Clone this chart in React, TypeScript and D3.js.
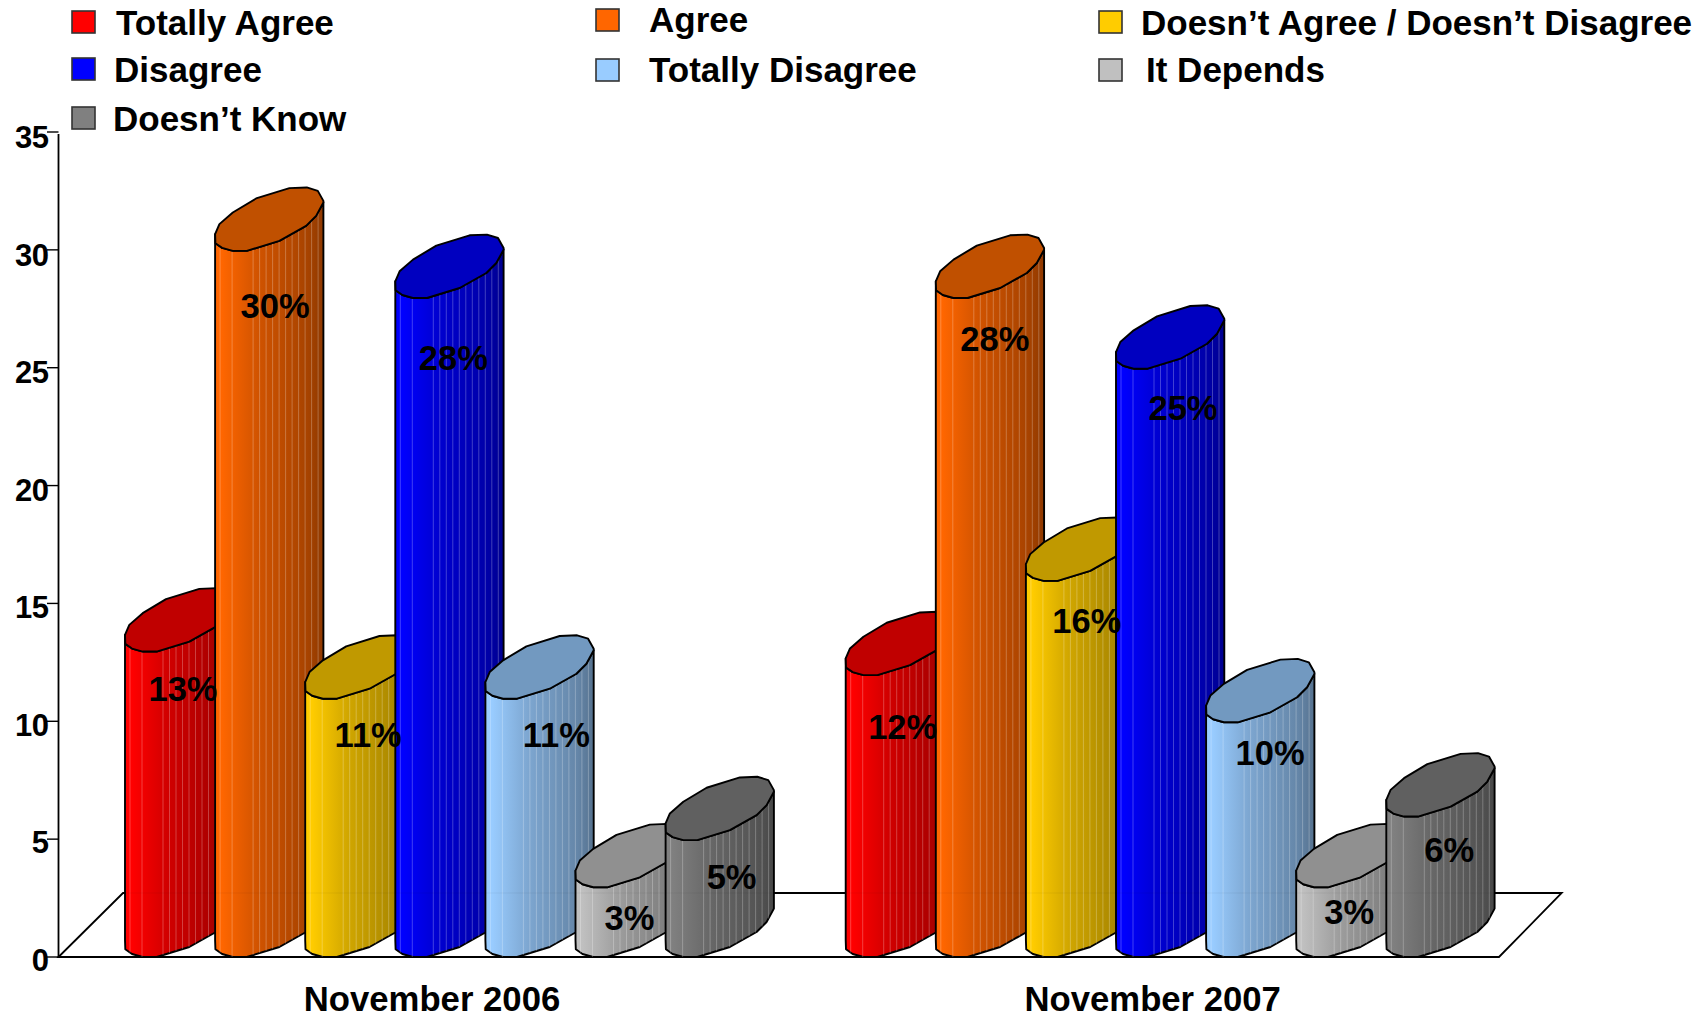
import React from "react";
import * as d3 from "d3";

const categories = ["November 2006", "November 2007"];
const seriesNames = ["Totally Agree", "Agree", "Doesn\u2019t Agree / Doesn\u2019t Disagree", "Disagree", "Totally Disagree", "It Depends", "Doesn\u2019t Know"];
const values2006 = [13, 30, 11, 28, 11, 3, 5];
const values2007 = [12, 28, 16, 25, 10, 3, 6];
const seriesColors = ["#ff0000", "#ff6600", "#ffcc00", "#0000ff", "#99ccff", "#c0c0c0", "#808080"];
const topColors = ["#c00000", "#c05000", "#c09900", "#0000c0", "#7299c0", "#909090", "#606060"];
const yTicks = [0, 5, 10, 15, 20, 25, 30, 35];

// layout: label offsets from each bar's left edge / value height
const labelDx = [[58, 60, 63, 58, 71, 54, 66], [57, 59, 61, 67, 64, 53, 63]];
const labelDy = [[38, 56, 37, 61, 37, 32, 38], [53, 42, 41, 40, 32, 26, 34]];
const legendSwatch = [[72, 11], [596, 9], [1099, 11], [72, 58], [596, 59], [1099, 59], [72, 107]];
const legendText = [[116, 35], [649, 32], [1141, 35], [114, 82], [649, 82], [1146, 82], [113, 131]];

const FONT = "'Liberation Sans', Arial, sans-serif";

// Top ellipse outline relative to left corner of the bar
const backEdge: [number, number][] = [[0, 0], [4.3, -10], [17.7, -21.7], [41, -35.7], [74.3, -46], [91.7, -46.7], [102.7, -43.3], [108.3, -33.3], [108.3, -31.7]];
const frontEdge: [number, number][] = [[0, 0], [0.3, 9], [7, 13.7], [17.7, 16.7], [31.7, 16.7], [64.3, 6.7], [91, -8.3], [101, -18.3], [108.3, -31.7]];
const stripes = [5, 17, ...d3.range(38, 105, 6.5)];
const LOWEST = 16.7;
const CAP_SHIFT = 1;

const y = d3.scaleLinear().domain([0, 35]).range([957, 132]);
const xGroup = d3.scaleBand<string>().domain(categories).range([125, 125 + 720.7 * 2]).paddingInner(0).paddingOuter(0);
const xBar = d3.scaleBand<string>().domain(seriesNames).range([0, 90.1 * 7]).padding(0);
const line = d3.line();

function frontY(x: number) {
  let i = 1;
  while (i < frontEdge.length - 1 && frontEdge[i][0] < x) i++;
  const a = frontEdge[i - 1];
  const b = frontEdge[i];
  const t = b[0] === a[0] ? 1 : (x - a[0]) / (b[0] - a[0]);
  return a[1] + (b[1] - a[1]) * t;
}

function Bar({ left, value, idx }: { left: number; value: number; idx: number }) {
  const top = y(value) - LOWEST + CAP_SHIFT;
  const base = y(0) - LOWEST;
  const topFront = frontEdge.map(([dx, dy]) => [left + dx, top + dy] as [number, number]);
  const bottomFront = frontEdge.map(([dx, dy]) => [left + dx, base + dy] as [number, number]).reverse();
  const topBack = backEdge.map(([dx, dy]) => [left + dx, top + dy] as [number, number]);
  const body = line([...topFront, ...bottomFront])! + "Z";
  const cap = line([...topBack, ...topFront.slice().reverse()])! + "Z";
  return (
    <g>
      <path d={body} fill={`url(#grad${idx})`} stroke="#000" strokeWidth={1.9} strokeLinejoin="round" />
      {stripes.map((s) => (
        <line key={s} x1={left + s} x2={left + s} y1={top + frontY(s)} y2={base + frontY(s)} stroke="#fff" strokeOpacity={0.25} strokeWidth={1} />
      ))}
      <path d={cap} fill={topColors[idx]} stroke="#000" strokeWidth={1.9} strokeLinejoin="round" />
    </g>
  );
}

export default function App() {
  const data = [values2006, values2007];
  return (
    <svg width={1697} height={1015} style={{ position: "absolute", left: 0, top: 0, background: "#fff" }} fontFamily={FONT} fontWeight="bold">
      <defs>
        {seriesColors.map((c, i) => {
          const base = d3.rgb(c);
          const dark = d3.rgb(base.r * 0.56, base.g * 0.56, base.b * 0.56).formatHex();
          const mix = d3.interpolateRgb(c, dark);
          return (
            <linearGradient key={c} id={`grad${i}`} x1="0" x2="1" y1="0" y2="0">
              <stop offset="0" stopColor={c} />
              <stop offset="0.06" stopColor={c} />
              <stop offset="0.4" stopColor={mix(0.42)} />
              <stop offset="0.85" stopColor={mix(0.78)} />
              <stop offset="1" stopColor={dark} />
            </linearGradient>
          );
        })}
      </defs>

      {/* floor */}
      <path d="M58.5,957 L123,893 L1561.7,893 L1499,957 Z" fill="#fff" stroke="#000" strokeWidth={1.8} />

      {/* y axis */}
      <line x1={58.5} x2={58.5} y1={134} y2={y(0)} stroke="#000" strokeWidth={1.8} />
      {yTicks.map((t) => (
        <g key={t}>
          <line x1={47} x2={58.5} y1={y(t)} y2={y(t)} stroke="#000" strokeWidth={1.4} />
          <text x={48.5} y={y(t) + 14 + t * 0.07} textAnchor="end" fontSize={31} fill="#000" letterSpacing={-0.5}>{t}</text>
        </g>
      ))}

      {/* bars */}
      {categories.map((c, g) =>
        data[g].map((v, i) => (
          <Bar key={c + i} left={xGroup(c)! + xBar(seriesNames[i])!} value={v} idx={i} />
        ))
      )}
      <line x1={123} x2={1561} y1={893} y2={893} stroke="#000" strokeOpacity={0.05} strokeWidth={1} />

      {/* value labels */}
      {categories.map((c, g) =>
        data[g].map((v, i) => (
          <text key={c + i} x={xGroup(c)! + xBar(seriesNames[i])! + labelDx[g][i]} y={y(v) + labelDy[g][i] + 12} textAnchor="middle" fontSize={34.5} fill="#000">
            {v}%
          </text>
        ))
      )}

      {/* category labels */}
      {categories.map((c, g) => (
        <text key={c} x={xGroup(c)! + 307} y={1011} textAnchor="middle" fontSize={34.7} fill="#000">{c}</text>
      ))}

      {/* legend */}
      {seriesNames.map((n, i) => (
        <g key={n}>
          <rect x={legendSwatch[i][0]} y={legendSwatch[i][1]} width={23} height={22} fill={seriesColors[i]} stroke="#333" strokeWidth={1.6} />
          <text x={legendText[i][0]} y={legendText[i][1]} fontSize={35} fill="#000">{n}</text>
        </g>
      ))}
    </svg>
  );
}
